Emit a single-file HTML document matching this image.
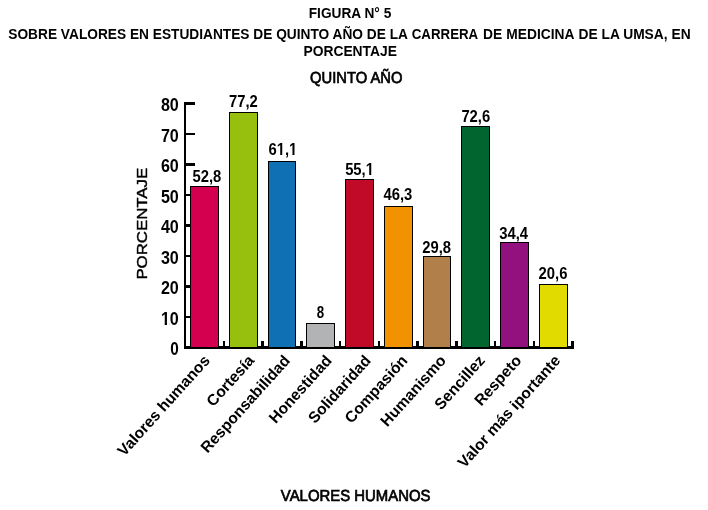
<!DOCTYPE html>
<html lang="es"><head><meta charset="utf-8"><title>Figura N° 5</title>
<style>html,body{margin:0;padding:0;background:#fff}body{width:708px;height:510px;overflow:hidden}svg{display:block}text{font-family:"Liberation Sans",Arial,Helvetica,sans-serif;fill:#000}.b{font-weight:bold}.m{stroke:#000;stroke-width:0.7px}.m2{stroke:#000;stroke-width:0.4px}</style>
</head><body>
<svg width="708" height="510" viewBox="0 0 708 510">
<rect width="708" height="510" fill="#fff"/>
<text class="b" x="350" y="18" font-size="14.5" text-anchor="middle" textLength="82.5" lengthAdjust="spacingAndGlyphs">FIGURA N° 5</text>
<text class="b" x="8.3" y="39" font-size="14.5" textLength="399.65" lengthAdjust="spacingAndGlyphs">SOBRE VALORES EN ESTUDIANTES DE QUINTO AÑO DE LA</text>
<text class="b" x="411.75" y="39" font-size="14.5" textLength="66.45" lengthAdjust="spacingAndGlyphs">CARRERA</text>
<text class="b" x="483.0" y="39" font-size="14.5" textLength="19.20" lengthAdjust="spacingAndGlyphs">DE</text>
<text class="b" x="506.3" y="39" font-size="14.5" textLength="68.15" lengthAdjust="spacingAndGlyphs">MEDICINA</text>
<text class="b" x="578.5" y="39" font-size="14.5" textLength="112.10" lengthAdjust="spacingAndGlyphs">DE LA UMSA, EN</text>
<text class="b" x="350.2" y="56" font-size="14.5" text-anchor="middle" textLength="93.5" lengthAdjust="spacingAndGlyphs">PORCENTAJE</text>
<text class="m" transform="matrix(1 0 0.0005 1 0 0)" x="356.2" y="83.2" font-size="16" text-anchor="middle" textLength="92.5" lengthAdjust="spacingAndGlyphs">QUINTO AÑO</text>
<text class="m" transform="matrix(1 0 0.0005 1 0 0)" x="355.4" y="501.3" font-size="16" text-anchor="middle" textLength="149.6" lengthAdjust="spacingAndGlyphs">VALORES HUMANOS</text>
<text class="m2" transform="translate(147.3,279.6) rotate(-90)" font-size="15" textLength="111.8" lengthAdjust="spacingAndGlyphs">PORCENTAJE</text>
<rect x="185" y="346.00" width="10" height="3" fill="#000"/>
<rect x="185" y="316.00" width="10" height="2" fill="#000"/>
<rect x="185" y="285.00" width="10" height="3" fill="#000"/>
<rect x="185" y="255.00" width="10" height="2" fill="#000"/>
<rect x="185" y="224.00" width="10" height="3" fill="#000"/>
<rect x="185" y="194.00" width="10" height="2" fill="#000"/>
<rect x="185" y="163.00" width="10" height="3" fill="#000"/>
<rect x="185" y="133.00" width="10" height="2" fill="#000"/>
<rect x="185" y="102.00" width="10" height="3" fill="#000"/>
<rect x="184" y="102" width="2" height="247" fill="#000"/>
<rect x="184" y="346" width="390" height="3" fill="#000"/>
<rect x="190.5" y="186.5" width="28" height="161.0" fill="#d4004f" stroke="#000" stroke-width="1"/>
<rect x="229.5" y="112.5" width="28" height="235.0" fill="#97bf0d" stroke="#000" stroke-width="1"/>
<rect x="268.5" y="161.5" width="27" height="186.0" fill="#0f71b4" stroke="#000" stroke-width="1"/>
<rect x="306.5" y="323.5" width="28" height="24.0" fill="#b2b3b4" stroke="#000" stroke-width="1"/>
<rect x="345.5" y="179.5" width="28" height="168.0" fill="#c00a27" stroke="#000" stroke-width="1"/>
<rect x="384.5" y="206.5" width="28" height="141.0" fill="#f39200" stroke="#000" stroke-width="1"/>
<rect x="423.5" y="256.5" width="27" height="91.0" fill="#b17f49" stroke="#000" stroke-width="1"/>
<rect x="461.5" y="126.5" width="28" height="221.0" fill="#00652e" stroke="#000" stroke-width="1"/>
<rect x="500.5" y="242.5" width="28" height="105.0" fill="#93117e" stroke="#000" stroke-width="1"/>
<rect x="539.5" y="284.5" width="28" height="63.0" fill="#e2db00" stroke="#000" stroke-width="1"/>
<rect x="184" y="347" width="390" height="2" fill="#000"/>
<text class="b" x="178.8" y="355.00" font-size="18.1" text-anchor="end" textLength="8.5" lengthAdjust="spacingAndGlyphs">0</text>
<text class="b" x="178.8" y="324.50" font-size="18.1" text-anchor="end" textLength="17.9" lengthAdjust="spacingAndGlyphs">10</text>
<text class="b" x="178.8" y="294.00" font-size="18.1" text-anchor="end" textLength="17.9" lengthAdjust="spacingAndGlyphs">20</text>
<text class="b" x="178.8" y="263.50" font-size="18.1" text-anchor="end" textLength="17.9" lengthAdjust="spacingAndGlyphs">30</text>
<text class="b" x="178.8" y="233.00" font-size="18.1" text-anchor="end" textLength="17.9" lengthAdjust="spacingAndGlyphs">40</text>
<text class="b" x="178.8" y="202.50" font-size="18.1" text-anchor="end" textLength="17.9" lengthAdjust="spacingAndGlyphs">50</text>
<text class="b" x="178.8" y="172.00" font-size="18.1" text-anchor="end" textLength="17.9" lengthAdjust="spacingAndGlyphs">60</text>
<text class="b" x="178.8" y="141.50" font-size="18.1" text-anchor="end" textLength="17.9" lengthAdjust="spacingAndGlyphs">70</text>
<text class="b" x="178.8" y="111.00" font-size="18.1" text-anchor="end" textLength="17.9" lengthAdjust="spacingAndGlyphs">80</text>
<rect x="223" y="341" width="2" height="6" fill="#000"/>
<rect x="261" y="341" width="3" height="6" fill="#000"/>
<rect x="300" y="341" width="3" height="6" fill="#000"/>
<rect x="339" y="341" width="2" height="6" fill="#000"/>
<rect x="378" y="341" width="2" height="6" fill="#000"/>
<rect x="416" y="341" width="3" height="6" fill="#000"/>
<rect x="455" y="341" width="3" height="6" fill="#000"/>
<rect x="494" y="341" width="2" height="6" fill="#000"/>
<rect x="533" y="341" width="2" height="6" fill="#000"/>
<rect x="571" y="341" width="3" height="6" fill="#000"/>
<text class="b" x="206.90" y="181.80" font-size="16" text-anchor="middle" textLength="28.8" lengthAdjust="spacingAndGlyphs">52,8</text>
<text class="b" x="243.45" y="106.80" font-size="16" text-anchor="middle" textLength="28.8" lengthAdjust="spacingAndGlyphs">77,2</text>
<text class="b" x="282.90" y="154.80" font-size="16" text-anchor="middle" textLength="28.8" lengthAdjust="spacingAndGlyphs">61,1</text>
<text class="b" x="320.40" y="317.80" font-size="16" text-anchor="middle" textLength="7.4" lengthAdjust="spacingAndGlyphs">8</text>
<text class="b" x="359.55" y="174.80" font-size="16" text-anchor="middle" textLength="28.8" lengthAdjust="spacingAndGlyphs">55,1</text>
<text class="b" x="397.90" y="199.80" font-size="16" text-anchor="middle" textLength="28.8" lengthAdjust="spacingAndGlyphs">46,3</text>
<text class="b" x="436.70" y="252.80" font-size="16" text-anchor="middle" textLength="28.8" lengthAdjust="spacingAndGlyphs">29,8</text>
<text class="b" x="475.80" y="121.80" font-size="16" text-anchor="middle" textLength="28.8" lengthAdjust="spacingAndGlyphs">72,6</text>
<text class="b" x="513.60" y="238.80" font-size="16" text-anchor="middle" textLength="28.8" lengthAdjust="spacingAndGlyphs">34,4</text>
<text class="b" x="553.00" y="278.80" font-size="16" text-anchor="middle" textLength="28.8" lengthAdjust="spacingAndGlyphs">20,6</text>
<rect x="161.4" y="322.7" width="3.3" height="2.6" fill="#fff"/>
<rect x="167.0" y="322.7" width="2.75" height="2.6" fill="#fff"/>
<rect x="365.7" y="172.9" width="3.5" height="2.4" fill="#fff"/>
<rect x="371.25" y="172.9" width="2.9" height="2.4" fill="#fff"/>
<rect x="276.7" y="152.9" width="3.5" height="2.4" fill="#fff"/>
<rect x="282.25" y="152.9" width="2.9" height="2.4" fill="#fff"/>
<rect x="288.7" y="152.9" width="3.75" height="2.4" fill="#fff"/>
<rect x="294.5" y="152.9" width="2.7" height="2.4" fill="#fff"/>
<text class="b" transform="translate(210.7,361.1) rotate(-48)" font-size="15.6" text-anchor="end">Valores humanos</text>
<text class="b" transform="translate(255.1,361.1) rotate(-48)" font-size="15.6" text-anchor="end">Cortesía</text>
<text class="b" transform="translate(291,361.1) rotate(-48)" font-size="15.6" text-anchor="end">Responsabilidad</text>
<text class="b" transform="translate(332.6,361.1) rotate(-48)" font-size="15.6" text-anchor="end">Honestidad</text>
<text class="b" transform="translate(371.7,361.1) rotate(-48)" font-size="15.6" text-anchor="end">Solidaridad</text>
<text class="b" transform="translate(408.4,361.1) rotate(-48)" font-size="15.6" text-anchor="end">Compasión</text>
<text class="b" transform="translate(447,361.1) rotate(-48)" font-size="15.6" text-anchor="end">Humanismo</text>
<text class="b" transform="translate(485.8,361.1) rotate(-48)" font-size="15.6" text-anchor="end">Sencillez</text>
<text class="b" transform="translate(522.3,361.1) rotate(-48)" font-size="15.6" text-anchor="end">Respeto</text>
<text class="b" transform="translate(561.4,361.1) rotate(-48)" font-size="15.6" text-anchor="end">Valor más iportante</text>
</svg></body></html>
